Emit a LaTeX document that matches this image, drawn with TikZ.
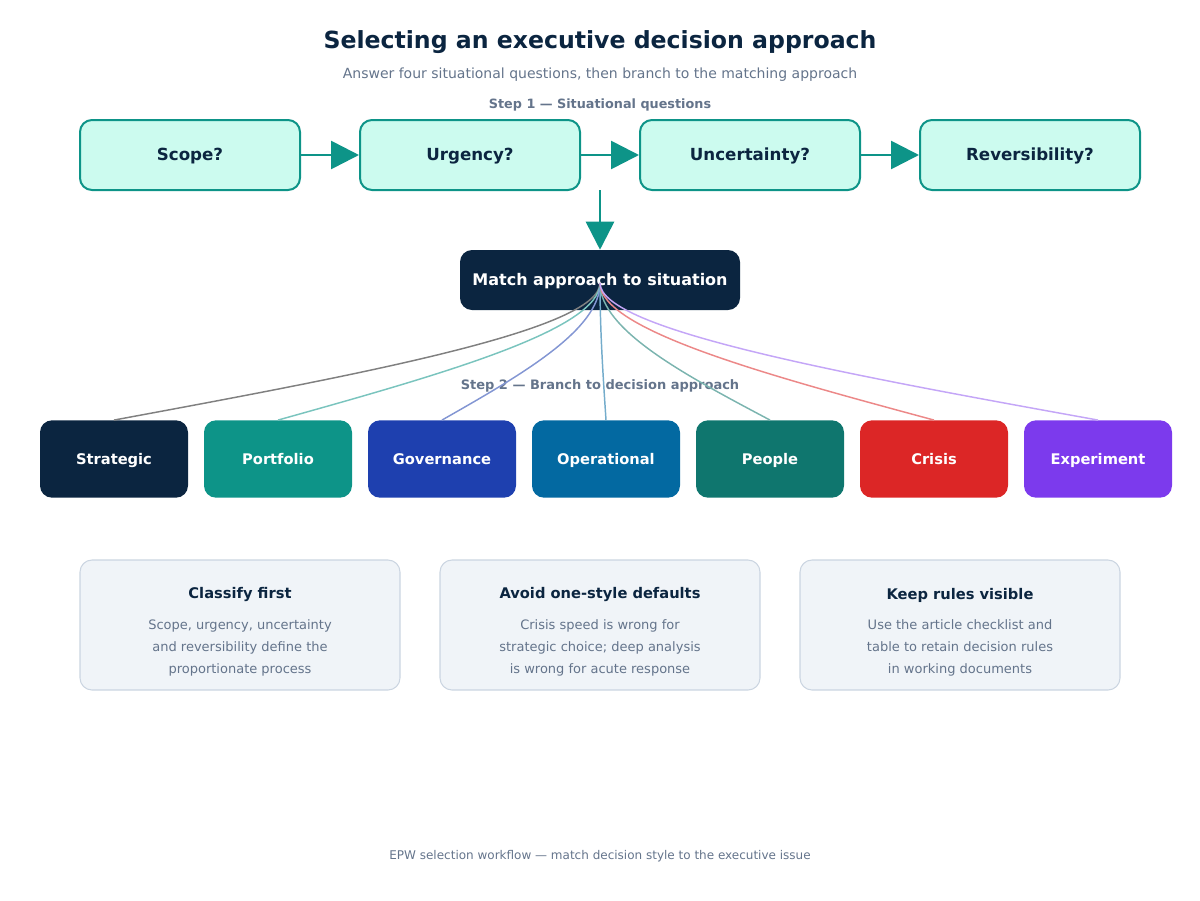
\documentclass[tikz,border=0pt]{standalone}
\usepackage{fontspec}
\setmainfont{DejaVu Sans}
\usetikzlibrary{arrows.meta}
\definecolor{navy}{HTML}{0B2540}
\definecolor{teal}{HTML}{0D9488}
\definecolor{mint}{HTML}{CCFBEF}
\definecolor{muted}{HTML}{64748B}
\definecolor{cardf}{HTML}{F0F4F8}
\definecolor{cardb}{HTML}{CBD5E1}
\definecolor{cA}{HTML}{0B2540}\definecolor{cB}{HTML}{0D9488}\definecolor{cC}{HTML}{1E40AF}
\definecolor{cD}{HTML}{0369A1}\definecolor{cE}{HTML}{0F766E}\definecolor{cF}{HTML}{DC2626}\definecolor{cG}{HTML}{7C3AED}
\begin{document}
\begin{tikzpicture}[x=0.75pt,y=-0.75pt,
 q/.style={draw=teal,line width=1.5pt,fill=mint,rounded corners=9pt,minimum width=165pt,minimum height=52.5pt,font=\bfseries\fontsize{12.5}{15}\selectfont,text=navy,text height=9pt,text depth=1.5pt},
 arr/.style={teal,line width=2pt,-{Triangle[length=21pt,width=21pt]}},
 br/.style={rounded corners=9pt,minimum width=111pt,minimum height=58pt,text=white,font=\bfseries\fontsize{11}{13}\selectfont,text height=8pt,text depth=0.5pt},
 card/.style={draw=cardb,line width=0.8pt,fill=cardf,rounded corners=9pt,minimum width=240pt,minimum height=97.5pt},
 ct/.style={font=\bfseries\fontsize{11}{13}\selectfont,text=navy},
 cb/.style={font=\fontsize{9.75}{16.5}\selectfont,text=muted,align=center},
 cv/.style={line width=1.1pt}]
\useasboundingbox (0,0) rectangle (1200,900);
\node[font=\bfseries\fontsize{17.7}{21}\selectfont,text=navy] (title) at (600,42) {Selecting an executive decision approach};
\node[font=\fontsize{10.5}{12}\selectfont,text=muted] (sub) at (600,75) {Answer four situational questions, then branch to the matching approach};
\node[font=\bfseries\fontsize{9.6}{11}\selectfont,text=muted] (s1) at (600,105) {Step 1 — Situational questions};
\node[q] (q1) at (190,155) {Scope?};
\node[q] (q2) at (470,155) {Urgency?};
\node[q] (q3) at (750,155) {Uncertainty?};
\node[q] (q4) at (1030,155) {Reversibility?};
\draw[arr] (q1.east) -- (q2.west); \draw[arr] (q2.east) -- (q3.west); \draw[arr] (q3.east) -- (q4.west);
\node[fill=navy,rounded corners=9pt,minimum width=210pt,minimum height=45pt,text=white,font=\bfseries\fontsize{12}{14}\selectfont,text height=9pt,text depth=1pt] (m) at (600,280) {Match approach to situation};
\coordinate (top) at (600,190);
\draw[arr] (top) -- (m.north);
\coordinate (h) at (600,283);
\node[font=\bfseries\fontsize{9.75}{11}\selectfont,text=muted] (s2) at (600,386) {Step 2 — Branch to decision approach};
\foreach \n/\x/\c/\l/\t in {a/114/cA/gray/Strategic,b/278/cB/cB!55/Portfolio,c/442/cC/cC!55/Governance,d/606/cD/cD!55/Operational,e/770/cE/cE!55/People,f/934/cF/cF!55/Crisis,g/1098/cG/cG!45/Experiment}{
 \node[br,fill=\c] (\n) at (\x,459) {\t};
 \draw[cv,draw=\l] (h) .. controls (600,330) and ({(600+\x)/2},375) .. (\n.north);
}
\node[card] (k1) at (240,625) {};
\node[card] (k2) at (600,625) {};
\node[card] (k3) at (960,625) {};
\node[ct] (t1) at (240,595) {Classify first};
\node[ct] (t2) at (600,595) {Avoid one-style defaults};
\node[ct] (t3) at (960,595) {Keep rules visible};
\node[cb] (b1) at (240,648) {Scope, urgency, uncertainty\\and reversibility define the\\proportionate process};
\node[cb] (b2) at (600,648) {Crisis speed is wrong for\\strategic choice; deep analysis\\is wrong for acute response};
\node[cb] (b3) at (960,648) {Use the article checklist and\\table to retain decision rules\\in working documents};
\node[font=\fontsize{9}{11}\selectfont,text=muted] (foot) at (600,856) {EPW selection workflow — match decision style to the executive issue};
\end{tikzpicture}
\end{document}
